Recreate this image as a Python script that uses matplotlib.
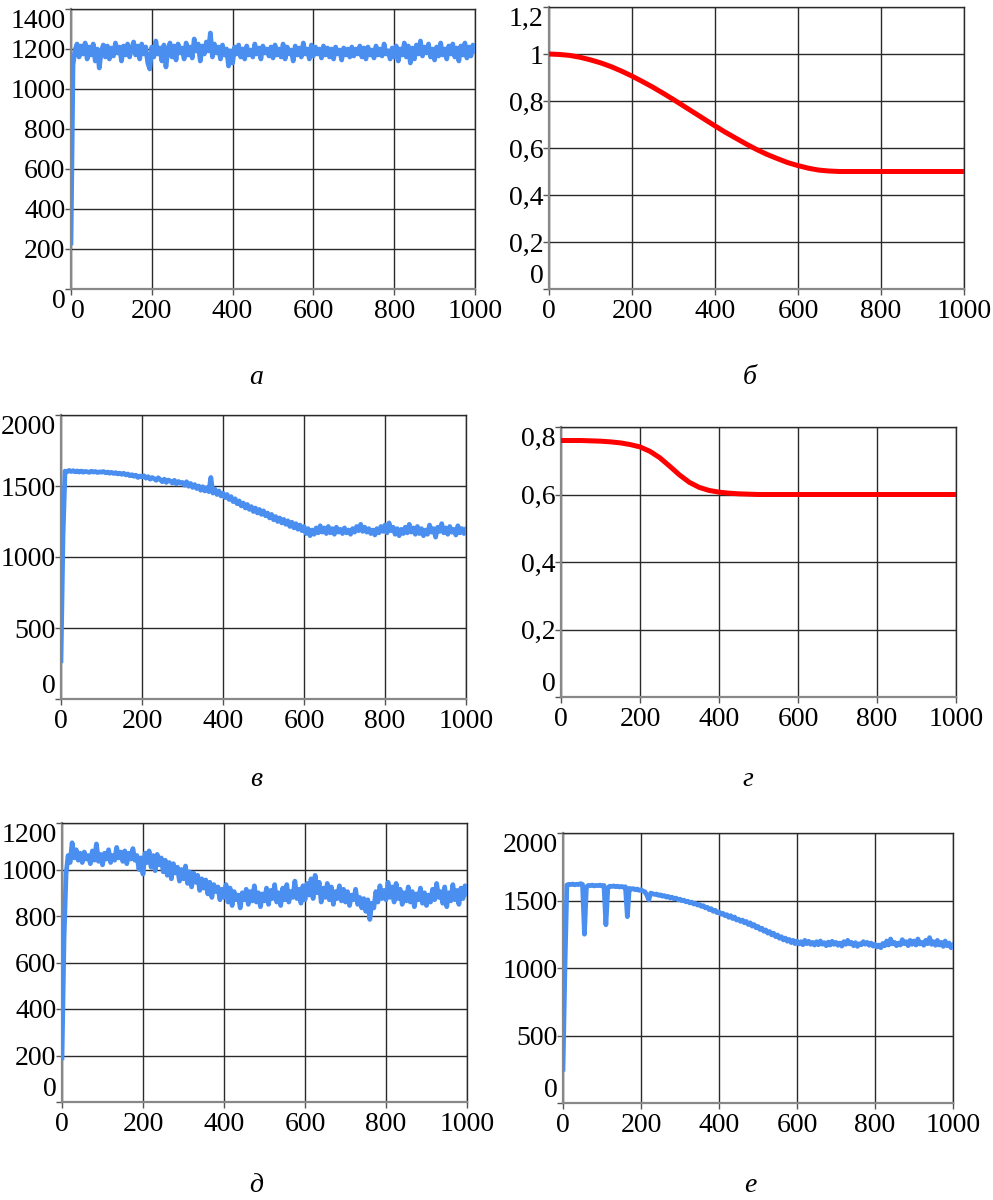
import matplotlib
matplotlib.use("Agg")
import matplotlib.pyplot as plt

plt.rcParams['font.family'] = ['Liberation Serif', 'DejaVu Serif']
plt.rcParams['font.serif'] = ['Liberation Serif', 'DejaVu Serif']

# ---------------- data ----------------
x_noisy = list(range(0, 1001, 5))

series_a = [
    230, 1120, 1195, 1225, 1160, 1215, 1175, 1230, 1150, 1210,
    1170, 1225, 1140, 1200, 1105, 1190, 1220, 1160, 1215, 1150,
    1205, 1165, 1230, 1180, 1210, 1140, 1215, 1170, 1225, 1160,
    1200, 1235, 1170, 1215, 1150, 1225, 1175, 1210, 1130, 1100,
    1210, 1160, 1240, 1175, 1205, 1140, 1220, 1110, 1195, 1230,
    1160, 1215, 1145, 1225, 1180, 1205, 1150, 1230, 1170, 1210,
    1155, 1250, 1190, 1225, 1140, 1215, 1175, 1235, 1190, 1280,
    1160, 1225, 1180, 1210, 1150, 1220, 1170, 1200, 1115, 1190,
    1130, 1210, 1175, 1220, 1160, 1200, 1150, 1215, 1170, 1195,
    1160, 1225, 1175, 1205, 1150, 1215, 1180, 1200, 1165, 1210,
    1155, 1220, 1170, 1200, 1160, 1225, 1150, 1210, 1175, 1195,
    1140, 1215, 1170, 1205, 1160, 1230, 1175, 1200, 1150, 1220,
    1165, 1210, 1175, 1200, 1155, 1215, 1170, 1205, 1160, 1200,
    1150, 1210, 1175, 1195, 1145, 1205, 1170, 1200, 1160, 1210,
    1165, 1200, 1175, 1215, 1160, 1205, 1150, 1210, 1170, 1195,
    1155, 1215, 1170, 1200, 1165, 1225, 1175, 1190, 1150, 1205,
    1160, 1215, 1140, 1200, 1170, 1230, 1160, 1215, 1130, 1205,
    1150, 1220, 1175, 1240, 1165, 1210, 1180, 1225, 1160, 1200,
    1145, 1210, 1165, 1230, 1170, 1200, 1150, 1215, 1175, 1225,
    1160, 1205, 1140, 1215, 1170, 1230, 1155, 1210, 1165, 1220,
    1190,
]

series_c = [
    270, 1150, 1605, 1600, 1610, 1602, 1608, 1600, 1606, 1598,
    1605, 1597, 1603, 1600, 1596, 1604, 1598, 1602, 1595, 1600,
    1597, 1602, 1593, 1598, 1590, 1596, 1588, 1594, 1585, 1590,
    1582, 1590, 1578, 1585, 1572, 1580, 1568, 1576, 1560, 1570,
    1565, 1572, 1555, 1566, 1548, 1560, 1552, 1540, 1558, 1545,
    1530, 1548, 1525, 1542, 1535, 1520, 1540, 1515, 1532, 1520,
    1525, 1505, 1530, 1498, 1518, 1490, 1510, 1482, 1500, 1470,
    1495, 1465, 1488, 1460, 1560, 1450, 1478, 1440, 1465, 1430,
    1450, 1418, 1440, 1405, 1425, 1390, 1410, 1375, 1395, 1360,
    1380, 1345, 1370, 1335, 1355, 1320, 1345, 1310, 1335, 1300,
    1325, 1290, 1310, 1275, 1300, 1262, 1285, 1250, 1275, 1240,
    1265, 1230, 1255, 1215, 1245, 1205, 1235, 1195, 1225, 1185,
    1215, 1165, 1200, 1150, 1190, 1160, 1205, 1170, 1220, 1175,
    1205, 1165, 1215, 1170, 1200, 1160, 1210, 1175, 1195, 1165,
    1205, 1170, 1190, 1160, 1200, 1175, 1215, 1185, 1230, 1180,
    1210, 1175, 1200, 1165, 1190, 1155, 1200, 1170, 1215, 1180,
    1225, 1170, 1240, 1185, 1210, 1160, 1200, 1150, 1195, 1165,
    1210, 1170, 1230, 1175, 1205, 1160, 1215, 1165, 1200, 1150,
    1190, 1160, 1225, 1175, 1200, 1140, 1210, 1180, 1235, 1170,
    1205, 1160, 1215, 1175, 1195, 1155, 1220, 1170, 1200, 1165,
    1195,
]

series_e = [
    190, 700, 980, 1060, 1030, 1115, 1050, 1085, 1040, 1070,
    1030, 1075, 1045, 1060, 1025, 1080, 1040, 1110, 1035, 1065,
    1020, 1070, 1045, 1085, 1030, 1060, 1040, 1095, 1050, 1075,
    1035, 1080, 1025, 1070, 1045, 1090, 1040, 1060, 1000, 1050,
    980, 1070, 1030, 1080, 1010, 1060, 995, 1065, 1020, 1050,
    990, 1040, 975, 1030, 960, 1025, 985, 1010, 950, 1000,
    960, 1015, 940, 990, 925, 985, 945, 975, 910, 960,
    920, 955, 895, 945, 880, 935, 905, 925, 870, 915,
    880, 935, 860, 920, 845, 905, 870, 890, 835, 900,
    870, 915, 850, 905, 865, 930, 860, 900, 840, 895,
    865, 920, 850, 910, 875, 935, 860, 900, 845, 920,
    870, 935, 860, 905, 880, 950, 875, 915, 855, 930,
    870, 940, 890, 960, 875, 975, 900, 945, 860, 920,
    880, 940, 870, 925, 850, 905, 875, 930, 865, 915,
    860, 905, 845, 890, 870, 915, 850, 880, 835, 875,
    820, 870, 785, 855, 835, 905, 860, 930, 875, 910,
    870, 945, 880, 925, 860, 940, 875, 915, 850, 900,
    865, 925, 860, 905, 840, 895, 870, 920, 855, 900,
    845, 890, 860, 915, 870, 940, 880, 905, 855, 925,
    840, 900, 865, 935, 870, 910, 850, 920, 875, 930,
    895,
]

series_f = [
    250, 1000, 1615, 1620, 1618, 1622, 1616, 1620, 1618, 1625,
    1620, 1250, 1600, 1612, 1610, 1614, 1608, 1612, 1610, 1614,
    1608, 1612, 1320, 1595, 1606, 1604, 1608, 1602, 1606, 1600,
    1604, 1598, 1602, 1380, 1590, 1584, 1588, 1580, 1585, 1575,
    1580, 1570, 1565, 1540, 1505, 1555, 1550, 1545, 1548, 1538,
    1542, 1532, 1536, 1525, 1530, 1518, 1524, 1512, 1518, 1505,
    1510, 1498, 1503, 1490, 1495, 1482, 1488, 1474, 1478, 1466,
    1470, 1456, 1462, 1445, 1450, 1432, 1440, 1420, 1428, 1410,
    1415, 1398, 1405, 1388, 1395, 1375, 1388, 1366, 1378, 1355,
    1362, 1345, 1355, 1335, 1345, 1322, 1335, 1310, 1322, 1298,
    1308, 1285, 1295, 1272, 1282, 1258, 1270, 1245, 1258, 1232,
    1245, 1220, 1232, 1208, 1222, 1198, 1212, 1188, 1205, 1180,
    1200, 1178, 1195, 1172, 1205, 1180, 1198, 1175, 1190, 1170,
    1195, 1172, 1200, 1176, 1188, 1165, 1192, 1170, 1198, 1175,
    1190, 1168, 1185, 1162, 1195, 1175, 1205, 1178, 1190, 1165,
    1188, 1160, 1180, 1172, 1195, 1176, 1190, 1168, 1185, 1162,
    1175, 1155, 1170, 1150, 1182, 1165, 1200, 1170, 1215, 1178,
    1190, 1165, 1185, 1170, 1210, 1180, 1195, 1165, 1205, 1175,
    1200, 1170, 1215, 1178, 1190, 1168, 1205, 1180, 1225, 1175,
    1195, 1168, 1205, 1170, 1190, 1160, 1200, 1165, 1185, 1150,
    1170,
]

x_b = [0, 25, 50, 75, 100, 125, 150, 175, 200, 225, 250, 275, 300, 325, 350,
       375, 400, 425, 450, 475, 500, 525, 550, 575, 600, 625, 650, 675, 700,
       800, 900, 1000]
series_b = [1.0, 0.998, 0.994, 0.986, 0.975, 0.962, 0.946, 0.927, 0.906, 0.883,
            0.859, 0.833, 0.806, 0.778, 0.75, 0.722, 0.694, 0.667, 0.642, 0.617,
            0.594, 0.573, 0.555, 0.538, 0.525, 0.514, 0.506, 0.502, 0.5,
            0.5, 0.5, 0.5]

x_d = [0, 50, 100, 125, 150, 175, 200, 225, 250, 275, 300, 325, 350, 375, 400,
       425, 450, 500, 600, 800, 1000]
series_d = [0.76, 0.76, 0.758, 0.756, 0.753, 0.748, 0.741, 0.728, 0.709, 0.684,
            0.658, 0.636, 0.621, 0.612, 0.607, 0.604, 0.602, 0.6, 0.6, 0.6, 0.6]

x_ticks = [0, 200, 400, 600, 800, 1000]
x_ticklabels = ["0", "200", "400", "600", "800", "1000"]

yt_a = [0, 200, 400, 600, 800, 1000, 1200, 1400]
yl_a = ["0", "200", "400", "600", "800", "1000", "1200", "1400"]
yt_b = [0, 0.2, 0.4, 0.6, 0.8, 1.0, 1.2]
yl_b = ["0", "0,2", "0,4", "0,6", "0,8", "1", "1,2"]
yt_c = [0, 500, 1000, 1500, 2000]
yl_c = ["0", "500", "1000", "1500", "2000"]
yt_d = [0, 0.2, 0.4, 0.6, 0.8]
yl_d = ["0", "0,2", "0,4", "0,6", "0,8"]
yt_e = [0, 200, 400, 600, 800, 1000, 1200]
yl_e = ["0", "200", "400", "600", "800", "1000", "1200"]
yt_f = [0, 500, 1000, 1500, 2000]
yl_f = ["0", "500", "1000", "1500", "2000"]

captions = ["а", "б", "в", "г", "д", "е"]

# ---------------- figure ----------------
W, H = 993, 1200
fig = plt.figure(figsize=(W / 100, H / 100), dpi=100)

def rect(l, r, t, b):
    return [l / W, 1 - b / H, (r - l) / W, (b - t) / H]

BLUE = "#4a8ef0"
RED = "#ff0000"
FS = 20

panels = [
    dict(r=rect(71, 475, 9, 289), x=x_noisy, y=series_a, c=BLUE, lw=3.4, yt=yt_a, yl=yl_a, ylim=1400, zero_va="top"),
    dict(r=rect(549, 964, 7, 289), x=x_b, y=series_b, c=RED, lw=3.6, yt=yt_b, yl=yl_b, ylim=1.2, zero_va="bottom"),
    dict(r=rect(61, 466, 415, 699), x=x_noisy, y=series_c, c=BLUE, lw=3.4, yt=yt_c, yl=yl_c, ylim=2000, zero_va="bottom"),
    dict(r=rect(561, 956, 427, 697), x=x_d, y=series_d, c=RED, lw=3.6, yt=yt_d, yl=yl_d, ylim=0.8, zero_va="bottom"),
    dict(r=rect(62, 467, 823, 1102), x=x_noisy, y=series_e, c=BLUE, lw=3.4, yt=yt_e, yl=yl_e, ylim=1200, zero_va="bottom"),
    dict(r=rect(563, 953, 833, 1103), x=x_noisy, y=series_f, c=BLUE, lw=3.4, yt=yt_f, yl=yl_f, ylim=2000, zero_va="bottom"),
]

for i, p in enumerate(panels):
    ax = fig.add_axes(p["r"])
    ax.plot(p["x"], p["y"], color=p["c"], lw=p["lw"], solid_joinstyle="round", zorder=3)
    ax.set_xlim(0, 1000)
    ax.set_ylim(0, p["ylim"])
    ax.set_xticks(x_ticks)
    ax.set_xticklabels(x_ticklabels, family="Liberation Serif")
    ax.set_yticks(p["yt"])
    ax.set_yticklabels(p["yl"], family="Liberation Serif")
    ax.grid(True, color="#2a2a2a", lw=1.0, zorder=1)
    for s in ["top", "right"]:
        ax.spines[s].set_color("#2a2a2a")
        ax.spines[s].set_linewidth(1.0)
    for s in ["left", "bottom"]:
        ax.spines[s].set_color("#888888")
        ax.spines[s].set_linewidth(1.6)
    ax.tick_params(axis="both", direction="out", length=4, width=1, color="#555555",
                   labelsize=FS, pad=0)
    ax.tick_params(axis="x", pad=3)
    yticks = ax.yaxis.get_major_ticks()
    yticks[-1].label1.set_verticalalignment("top")
    yticks[0].label1.set_verticalalignment(p["zero_va"])
    if i == 0:
        ax.xaxis.get_major_ticks()[0].label1.set_horizontalalignment("left")

cap_pos = [(256, 378), (750, 378), (256, 780), (748, 780), (256, 1185), (750, 1185)]
for (cx, cy), t in zip(cap_pos, captions):
    fig.text(cx / W, 1 - cy / H, t, fontsize=FS, style="italic", family="Liberation Serif",
             ha="center", va="center")

fig.savefig("out.png", dpi=100, facecolor="white")
